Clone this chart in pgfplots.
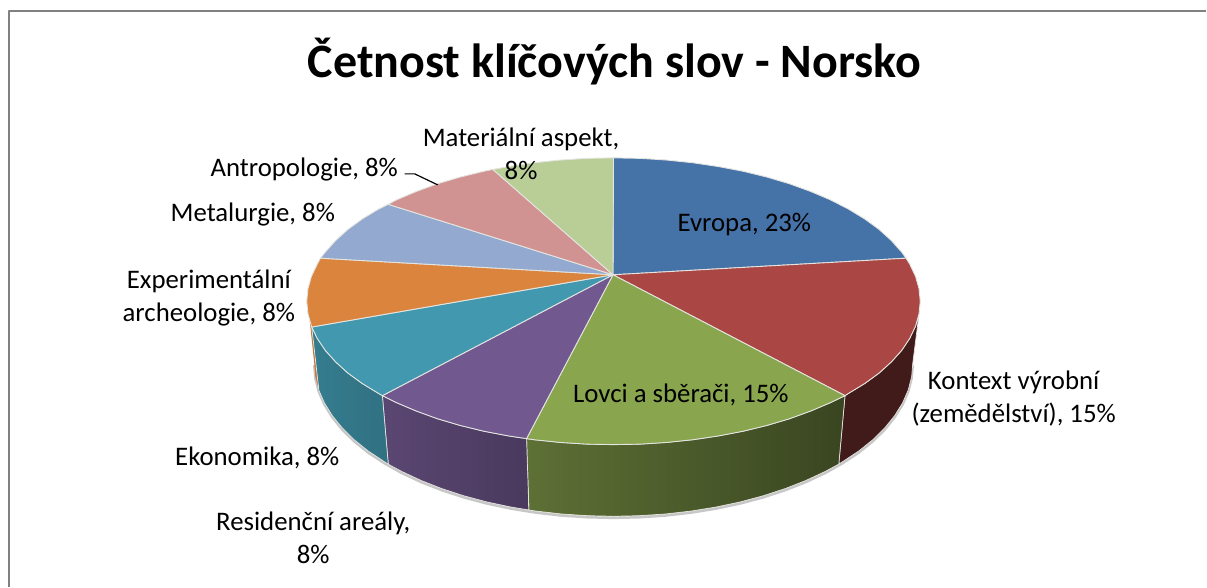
\documentclass[border=0pt]{standalone}
\usepackage{fontspec}
\setmainfont{Carlito}
\usepackage{pgfplots}
\pgfplotsset{compat=1.18}
\definecolor{cBlue}{HTML}{4572A7}
\definecolor{cRed}{HTML}{AA4643}
\definecolor{cGreen}{HTML}{89A54E}
\definecolor{cPurple}{HTML}{71588F}
\definecolor{cTeal}{HTML}{4198AF}
\definecolor{cOrange}{HTML}{DB843D}
\definecolor{cLBlue}{HTML}{93A9CF}
\definecolor{cPink}{HTML}{D19392}
\definecolor{cLGreen}{HTML}{B9CD96}
\definecolor{edge}{HTML}{E4E4E0}
\tikzset{
  wedge/.style={draw=edge, line width=0.9pt},
  lab/.style={font=\fontsize{26.8}{33}\selectfont, align=center, text=black, inner sep=0pt, anchor=center},
}
\begin{document}
\begin{tikzpicture}
\begin{axis}[
  scale only axis, width=1207pt, height=587pt,
  xmin=0, xmax=1207, ymin=0, ymax=587, y dir=reverse,
  hide axis, no marks, clip=false,
  every axis plot/.append style={line join=round},
]
% page extent
\addplot[draw=none] coordinates {(0,0)(1207,0)(1207,587)(0,587)(0,0)};
% frame
\addplot[color=black!50, line width=2pt] coordinates {(9.5,587) (9.5,11) (1207,11)};
% soft shadow below the rim
\addplot[color=black!22, line width=2.5pt, yshift=-1.6pt] coordinates {
(913.5,363.7)(912.4,377)(909,390.3)(903.3,403.3)(895.4,416)(885.4,428.4)(873.4,440.2)(859.3,451.5)(843.4,462)(825.8,471.9)(806.5,480.9)(785.8,489)(763.8,496.2)(740.6,502.4)(716.4,507.5)(691.5,511.5)(666,514.4)(640.1,516.1)(614,516.7)(587.9,516.1)(562,514.4)(536.5,511.5)(511.6,507.5)(487.4,502.4)(464.2,496.2)(442.2,489)(421.5,480.9)(402.2,471.9)(384.6,462)(368.7,451.5)(354.6,440.2)(342.6,428.4)(332.6,416)(324.7,403.3)(319,390.3)(315.6,377)(314.5,363.7)};
% side walls
\addplot[draw=none, fill=cOrange!90!black] coordinates {
(312,327.3)(310,321)(314.5,363.7)(315.6,377)(319.2,390.8)(312,327.3)};
\addplot[draw=edge, line width=0.7pt, fill=black!62!cRed] coordinates {
(919.8,314)(916.3,326.4)(910.5,338.6)(902.5,350.6)(892.2,362.1)(879.9,373.3)(865.5,383.8)(849.2,393.7)(845.7,396)
(839.5,464.5)(843.4,462)(859.3,451.5)(873.4,440.2)(885.4,428.4)(895.4,416)(903.3,403.3)(909,390.3)(912.4,377)(913.5,363.7)(919.8,314)};
\addplot[draw=edge, line width=0.7pt, left color=cGreen!68!black, middle color=cGreen!46!black, right color=cGreen!42!black] coordinates {
(845.7,396)(831.1,403)(811.3,411.4)(790.1,419.1)(767.5,425.8)(743.7,431.6)(719,436.3)(693.5,440.1)(667.3,442.8)(640.8,444.5)(614,445)(587.2,444.5)(560.7,442.8)(534.5,440.1)(527,439)
(529.3,510.4)(536.5,511.5)(562,514.4)(587.9,516.1)(614,516.7)(640.1,516.1)(666,514.4)(691.5,511.5)(716.4,507.5)(740.6,502.4)(763.8,496.2)(785.8,489)(806.5,480.9)(825.8,471.9)(839.5,464.5)(845.7,396)};
\addplot[draw=edge, line width=0.7pt, left color=cPurple!80!black, right color=cPurple!65!black] coordinates {
(527,439)(509,436.3)(484.3,431.6)(460.5,425.8)(437.9,419.1)(416.7,411.4)(396.9,403)(382.7,396)
(388.6,464.6)(402.2,471.9)(421.5,480.9)(442.2,489)(464.2,496.2)(487.4,502.4)(511.6,507.5)(529.3,510.4)(527,439)};
\addplot[draw=edge, line width=0.7pt, left color=cTeal!82!black, right color=cTeal!74!black] coordinates {
(382.7,396)(378.8,393.7)(362.5,383.8)(348.1,373.3)(335.8,362.1)(325.5,350.6)(317.5,338.6)(312,327.3)
(319.2,390.8)(324.7,403.3)(332.6,416)(342.6,428.4)(354.6,440.2)(368.7,451.5)(384.6,462)(388.6,464.6)(382.7,396)};
% top face
\addplot[wedge, fill=cBlue] coordinates {
(613.5,275)(614,158)(640.8,158.5)(667.3,160.2)(693.5,162.9)(719,166.7)(743.7,171.4)(767.5,177.2)(790.1,183.9)(811.3,191.6)(831.1,200)(849.2,209.3)(865.5,219.2)(879.9,229.7)(892.2,240.9)(902.5,252.4)(906.8,258.4)(613.5,275)};
\addplot[wedge, fill=cRed] coordinates {
(613.5,275)(906.8,258.4)(910.5,264.4)(916.3,276.6)(919.8,289)(921,301.5)(919.8,314)(916.3,326.4)(910.5,338.6)(902.5,350.6)(892.2,362.1)(879.9,373.3)(865.5,383.8)(849.2,393.7)(845.7,396)(613.5,275)};
\addplot[wedge, fill=cGreen] coordinates {
(613.5,275)(845.7,396)(831.1,403)(811.3,411.4)(790.1,419.1)(767.5,425.8)(743.7,431.6)(719,436.3)(693.5,440.1)(667.3,442.8)(640.8,444.5)(614,445)(587.2,444.5)(560.7,442.8)(534.5,440.1)(527,439)(613.5,275)};
\addplot[wedge, fill=cPurple] coordinates {
(613.5,275)(527,439)(509,436.3)(484.3,431.6)(460.5,425.8)(437.9,419.1)(416.7,411.4)(396.9,403)(382.7,396)(613.5,275)};
\addplot[wedge, fill=cTeal] coordinates {
(613.5,275)(382.7,396)(378.8,393.7)(362.5,383.8)(348.1,373.3)(335.8,362.1)(325.5,350.6)(317.5,338.6)(312,327.3)(613.5,275)};
\addplot[wedge, fill=cOrange] coordinates {
(613.5,275)(312,327.3)(311.7,326.4)(308.2,314)(307,301.5)(308.2,289)(311.7,276.6)(317.5,264.4)(320.7,258.4)(613.5,275)};
\addplot[wedge, fill=cLBlue] coordinates {
(613.5,275)(320.7,258.4)(325.5,252.4)(335.8,240.9)(348.1,229.7)(362.5,219.2)(378.8,209.3)(388.5,204.5)(613.5,275)};
\addplot[wedge, fill=cPink] coordinates {
(613.5,275)(388.5,204.5)(396.9,200)(416.7,191.6)(437.9,183.9)(460.5,177.2)(484.3,171.4)(493.3,169.6)(613.5,275)};
\addplot[wedge, fill=cLGreen] coordinates {
(613.5,275)(493.3,169.6)(509,166.7)(534.5,162.9)(560.7,160.2)(587.2,158.5)(614,158)(613.5,275)};
% leader line
\addplot[color=black, line width=1.2pt] coordinates {(405,174)(415,174)(438,185)};
% title and labels
\node[inner sep=0pt, anchor=center, font=\fontsize{48}{56}\selectfont\bfseries] at (axis cs:615,62) {Četnost klíčových slov - Norsko};
\node[lab] at (axis cs:745,225) {Evropa, 23\%};
\node[lab] at (axis cs:681.5,395) {Lovci a sběrači, 15\%};
\node[lab] at (axis cs:1014.5,399) {Kontext výrobní\\(zemědělství), 15\%};
\node[lab] at (axis cs:257.5,458) {Ekonomika, 8\%};
\node[lab] at (axis cs:313.5,538) {Residenční areály,\\8\%};
\node[lab] at (axis cs:209,298) {Experimentální\\archeologie, 8\%};
\node[lab] at (axis cs:253,215) {Metalurgie, 8\%};
\node[lab] at (axis cs:304.5,170) {Antropologie, 8\%};
\node[lab] at (axis cs:521.5,154) {Materiální aspekt,\\8\%};
\end{axis}
\end{tikzpicture}
\end{document}
